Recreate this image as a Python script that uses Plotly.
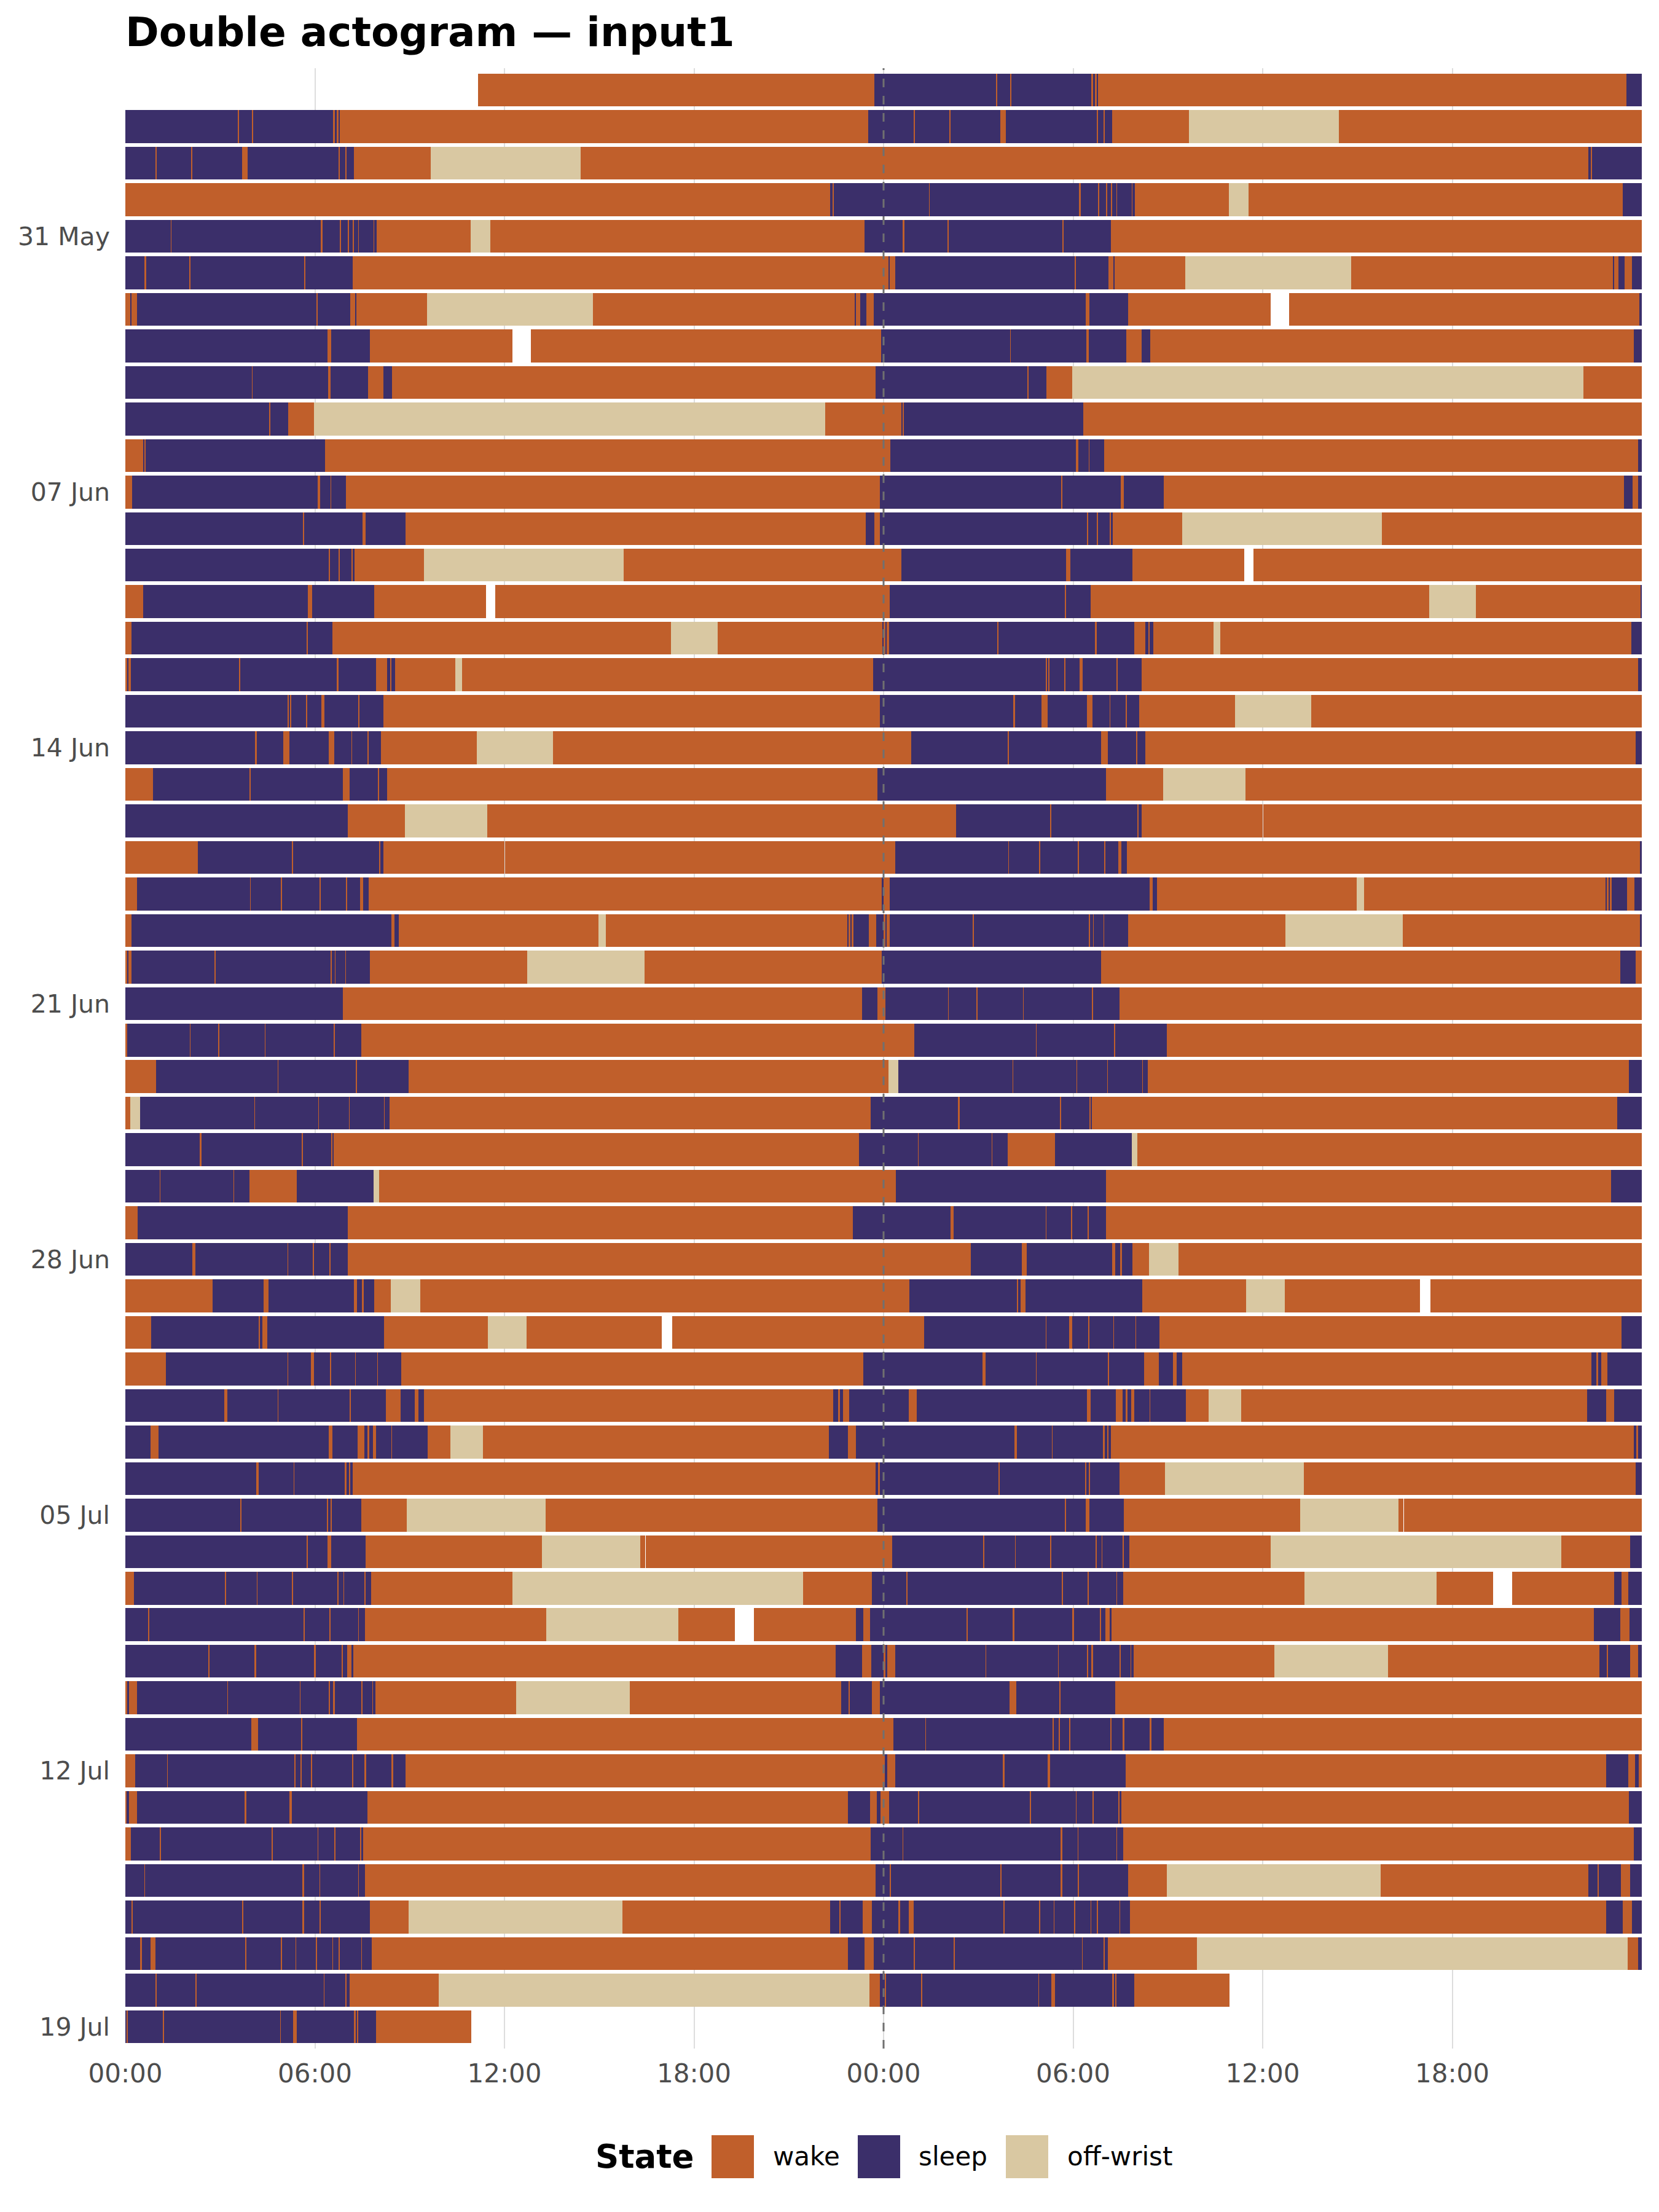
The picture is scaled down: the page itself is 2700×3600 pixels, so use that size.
import plotly.graph_objects as go

# ---------------- data ----------------
# Each day: list of (start hour, state) transitions; a state lasts until the next
# transition (or 24:00). W = wake, S = sleep, O = off-wrist, "-" = no data.
week1 = [  # 27 May - 02 Jun
    [(11.16, "W"), (23.70, "S")],
    [(0, "S"), (3.56, "W"), (3.60, "S"), (4.00, "W"), (4.04, "S"), (6.57, "W"), (6.64, "S"),
     (6.70, "W"), (6.75, "S"), (6.78, "W"), (23.52, "S")],
    [(0, "S"), (0.95, "W"), (0.99, "S"), (2.08, "W"), (2.12, "S"), (3.69, "W"), (3.87, "S"),
     (6.74, "W"), (6.78, "S"), (6.96, "W"), (7.00, "S"), (7.24, "W"), (9.66, "O"), (14.42, "W")],
    [(0, "W"), (22.31, "S"), (22.38, "W"), (22.42, "S")],
    [(0, "S"), (1.43, "W"), (1.46, "S"), (6.19, "W"), (6.24, "S"), (6.78, "W"), (6.82, "S"),
     (7.04, "W"), (7.07, "S"), (7.20, "W"), (7.23, "S"), (7.37, "W"), (7.40, "S"), (7.85, "W"),
     (7.88, "S"), (7.95, "W"), (10.93, "O"), (11.55, "W"), (23.40, "S")],
    [(0, "S"), (0.61, "W"), (0.66, "S"), (2.03, "W"), (2.07, "S"), (5.66, "W"), (5.70, "S"),
     (7.19, "W")],
    [(0, "W"), (0.16, "S"), (0.20, "W"), (0.36, "S"), (6.04, "W"), (6.09, "S"), (7.12, "W"),
     (7.28, "S"), (7.32, "W"), (9.55, "O"), (14.80, "W"), (23.10, "S"), (23.13, "W"),
     (23.26, "S"), (23.46, "W"), (23.69, "S")],
]
week2 = [  # 03 Jun - 09 Jun
    [(0, "S"), (6.39, "W"), (6.51, "S"), (7.75, "W"), (12.25, "-"), (12.84, "W"), (23.92, "S")],
    [(0, "S"), (4.00, "W"), (4.03, "S"), (6.42, "W"), (6.50, "S"), (7.69, "W"), (8.17, "S"),
     (8.45, "W"), (23.75, "S")],
    [(0, "S"), (4.56, "W"), (4.59, "S"), (5.15, "W"), (5.97, "O"), (22.16, "W")],
    [(0, "W"), (0.57, "S"), (0.60, "W"), (0.65, "S"), (6.33, "W")],
    [(0, "W"), (0.22, "S"), (6.08, "W"), (6.17, "S"), (6.49, "W"), (6.52, "S"), (6.98, "W"),
     (23.88, "S")],
    [(0, "S"), (5.63, "W"), (5.66, "S"), (7.50, "W"), (7.60, "S"), (8.87, "W"), (23.44, "S"),
     (23.70, "W"), (23.88, "S")],
    [(0, "S"), (6.44, "W"), (6.48, "S"), (6.75, "W"), (6.78, "S"), (7.15, "W"), (7.19, "S"),
     (7.26, "W"), (9.46, "O"), (15.77, "W")],
]
week3 = [  # 10 Jun - 16 Jun
    [(0, "W"), (0.56, "S"), (5.78, "W"), (5.92, "S"), (7.88, "W"), (11.41, "-"), (11.70, "W")],
    [(0, "W"), (0.20, "S"), (5.74, "W"), (5.78, "S"), (6.56, "W"), (17.27, "O"), (18.74, "W"),
     (23.96, "S")],
    [(0, "W"), (0.06, "S"), (0.10, "W"), (0.18, "S"), (3.60, "W"), (3.63, "S"), (6.70, "W"),
     (6.74, "S"), (7.94, "W"), (8.29, "S"), (8.38, "W"), (8.42, "S"), (8.54, "W"), (10.45, "O"),
     (10.65, "W"), (23.67, "S")],
    [(0, "S"), (5.14, "W"), (5.17, "S"), (5.22, "W"), (5.25, "S"), (5.72, "W"), (5.75, "S"),
     (6.20, "W"), (6.30, "S"), (7.38, "W"), (7.41, "S"), (8.16, "W"), (23.88, "S")],
    [(0, "S"), (4.11, "W"), (4.17, "S"), (4.99, "W"), (5.19, "S"), (6.43, "W"), (6.62, "S"),
     (7.15, "W"), (7.18, "S"), (7.67, "W"), (7.71, "S"), (8.09, "W"), (11.13, "O"), (13.53, "W")],
    [(0, "W"), (0.87, "S"), (3.92, "W"), (3.96, "S"), (6.88, "W"), (7.09, "S"), (8.00, "W"),
     (8.03, "S"), (8.29, "W"), (23.80, "S")],
    [(0, "S"), (7.04, "W"), (8.84, "O"), (11.46, "W")],
]
week4 = [  # 17 Jun - 23 Jun
    [(0, "W"), (2.29, "S"), (5.28, "W"), (5.31, "S"), (8.03, "W"), (8.08, "S"), (8.16, "W"),
     (12.00, "-"), (12.02, "W")],
    [(0, "W"), (0.37, "S"), (3.94, "W"), (3.97, "S"), (4.93, "W"), (4.96, "S"), (6.15, "W"),
     (6.18, "S"), (6.98, "W"), (7.02, "S"), (7.43, "W"), (7.52, "S"), (7.70, "W"), (23.95, "S")],
    [(0, "W"), (0.20, "S"), (8.43, "W"), (8.52, "S"), (8.65, "W"), (14.98, "O"), (15.20, "W"),
     (22.87, "S"), (22.90, "W"), (22.95, "S"), (22.98, "W"), (23.05, "S"), (23.53, "W"),
     (23.77, "S")],
    [(0, "W"), (0.05, "S"), (0.10, "W"), (0.20, "S"), (2.82, "W"), (2.85, "S"), (6.50, "W"),
     (6.53, "S"), (6.63, "W"), (6.66, "S"), (6.96, "W"), (6.99, "S"), (7.74, "W"), (12.71, "O"),
     (16.43, "W"), (23.95, "S")],
    [(0, "S"), (6.88, "W"), (23.32, "S"), (23.80, "W")],
    [(0, "W"), (0.05, "S"), (2.04, "W"), (2.07, "S"), (2.94, "W"), (2.97, "S"), (4.41, "W"),
     (4.44, "S"), (6.60, "W"), (6.63, "S"), (7.47, "W")],
    [(0, "W"), (0.98, "S"), (4.82, "W"), (4.85, "S"), (7.29, "W"), (7.33, "S"), (8.96, "W")],
]
week5 = [  # 24 Jun - 30 Jun
    [(0, "W"), (0.16, "O"), (0.47, "S"), (4.08, "W"), (4.11, "S"), (6.10, "W"), (6.13, "S"),
     (7.07, "W"), (7.10, "S"), (8.18, "W"), (8.21, "S"), (8.36, "W"), (23.60, "S")],
    [(0, "S"), (2.36, "W"), (2.41, "S"), (5.58, "W"), (5.62, "S"), (6.52, "W"), (6.56, "S"),
     (6.59, "W"), (23.22, "S")],
    [(0, "S"), (1.08, "W"), (1.11, "S"), (3.42, "W"), (3.44, "S"), (3.92, "W"), (5.43, "S"),
     (7.86, "O"), (8.03, "W")],
    [(0, "W"), (0.39, "S"), (7.04, "W"), (23.02, "S")],
    [(0, "S"), (2.12, "W"), (2.21, "S"), (5.13, "W"), (5.16, "S"), (5.93, "W"), (5.98, "S"),
     (6.45, "W"), (6.50, "S"), (7.04, "W")],
    [(0, "W"), (2.76, "S"), (4.37, "W"), (4.53, "S"), (7.24, "W"), (7.33, "S"), (7.49, "W"),
     (7.54, "S"), (7.88, "W"), (8.40, "O"), (9.33, "W")],
    [(0, "W"), (0.82, "S"), (4.23, "W"), (4.26, "S"), (4.33, "W"), (4.50, "S"), (8.19, "W"),
     (11.47, "O"), (12.70, "W"), (16.98, "-"), (17.30, "W")],
]
week6 = [  # 01 Jul - 07 Jul
    [(0, "W"), (1.29, "S"), (5.13, "W"), (5.16, "S"), (5.88, "W"), (5.97, "S"), (6.48, "W"),
     (6.51, "S"), (7.27, "W"), (7.30, "S"), (7.97, "W"), (8.00, "S"), (8.74, "W"), (23.36, "S")],
    [(0, "S"), (3.13, "W"), (3.22, "S"), (4.82, "W"), (4.85, "S"), (7.10, "W"), (7.13, "S"),
     (8.25, "W"), (8.71, "S"), (9.16, "W"), (9.27, "S"), (9.46, "W"), (22.40, "S"),
     (22.57, "W"), (22.62, "S"), (22.71, "W"), (22.91, "S")],
    [(0, "S"), (0.79, "W"), (1.05, "S"), (6.43, "W"), (6.56, "S"), (7.36, "W"), (7.57, "S"),
     (7.67, "W"), (7.72, "S"), (7.83, "W"), (7.94, "S"), (8.42, "W"), (8.45, "S"), (9.57, "W"),
     (10.29, "O"), (11.32, "W"), (22.26, "S"), (22.88, "W"), (23.13, "S")],
    [(0, "S"), (4.14, "W"), (4.23, "S"), (5.32, "W"), (5.35, "S"), (6.95, "W"), (7.00, "S"),
     (7.08, "W"), (7.12, "S"), (7.19, "W"), (23.75, "S"), (23.83, "W"), (23.88, "S")],
    [(0, "S"), (3.63, "W"), (3.67, "S"), (6.37, "W"), (6.42, "S"), (6.50, "W"), (6.53, "S"),
     (7.46, "W"), (8.91, "O"), (13.30, "W"), (23.80, "S")],
    [(0, "S"), (5.74, "W"), (5.77, "S"), (6.40, "W"), (6.51, "S"), (7.60, "W"), (13.19, "O"),
     (16.29, "W"), (16.45, "-"), (16.47, "W")],
    [(0, "W"), (0.28, "S"), (3.16, "W"), (3.19, "S"), (4.16, "W"), (4.19, "S"), (5.27, "W"),
     (5.30, "S"), (6.71, "W"), (6.74, "S"), (6.90, "W"), (6.93, "S"), (7.57, "W"), (7.60, "S"),
     (7.78, "W"), (12.25, "O"), (21.46, "W"), (23.63, "S")],
]
week7 = [  # 08 Jul - 14 Jul
    [(0, "S"), (0.72, "W"), (0.75, "S"), (5.64, "W"), (5.67, "S"), (6.45, "W"), (6.50, "S"),
     (7.37, "W"), (7.40, "S"), (7.58, "W"), (13.32, "O"), (17.50, "W"), (19.29, "-"),
     (19.89, "W"), (23.12, "S"), (23.36, "W"), (23.57, "S")],
    [(0, "S"), (2.63, "W"), (2.67, "S"), (4.09, "W"), (4.14, "S"), (5.97, "W"), (6.02, "S"),
     (6.84, "W"), (6.88, "S"), (7.02, "W"), (7.15, "S"), (7.21, "W"), (22.48, "S"),
     (23.32, "W"), (23.61, "S")],
    [(0, "W"), (0.05, "S"), (0.12, "W"), (0.36, "S"), (3.22, "W"), (3.25, "S"), (5.52, "W"),
     (5.55, "S"), (6.43, "W"), (6.47, "S"), (6.58, "W"), (6.64, "S"), (7.47, "W"), (7.50, "S"),
     (7.81, "W"), (7.84, "S"), (7.92, "W"), (12.36, "O"), (15.97, "W"), (22.65, "S"),
     (22.90, "W"), (22.93, "S"), (23.63, "W"), (23.88, "S")],
    [(0, "S"), (3.98, "W"), (4.20, "S"), (5.57, "W"), (5.60, "S"), (7.33, "W")],
    [(0, "W"), (0.31, "S"), (1.32, "W"), (1.35, "S"), (5.35, "W"), (5.39, "S"), (5.55, "W"),
     (5.59, "S"), (5.87, "W"), (5.91, "S"), (7.18, "W"), (7.22, "S"), (7.57, "W"), (7.62, "S"),
     (8.43, "W"), (8.48, "S"), (8.87, "W")],
    [(0, "W"), (0.04, "S"), (0.12, "W"), (0.36, "S"), (3.77, "W"), (3.83, "S"), (5.20, "W"),
     (5.28, "S"), (7.66, "W"), (22.87, "S"), (23.57, "W"), (23.78, "S"), (23.91, "W")],
    [(0, "W"), (0.17, "S"), (1.09, "W"), (1.13, "S"), (4.62, "W"), (4.66, "S"), (6.08, "W"),
     (6.11, "S"), (6.62, "W"), (6.65, "S"), (7.43, "W"), (7.46, "S"), (7.52, "W"), (23.60, "S")],
]
week8 = [  # 15 Jul - 19 Jul
    [(0, "S"), (0.60, "W"), (0.63, "S"), (5.60, "W"), (5.66, "S"), (6.14, "W"), (6.17, "S"),
     (7.37, "W"), (7.40, "S"), (7.58, "W"), (23.75, "S")],
    [(0, "S"), (0.20, "W"), (0.24, "S"), (3.70, "W"), (3.73, "S"), (5.60, "W"), (5.66, "S"),
     (6.15, "W"), (6.18, "S"), (7.74, "W"), (8.96, "O"), (15.74, "W"), (22.31, "S"),
     (22.60, "W"), (22.63, "S"), (23.33, "W"), (23.64, "S")],
    [(0, "S"), (0.47, "W"), (0.52, "S"), (0.80, "W"), (0.95, "S"), (3.80, "W"), (3.83, "S"),
     (4.93, "W"), (4.96, "S"), (5.38, "W"), (5.41, "S"), (6.03, "W"), (6.06, "S"), (6.55, "W"),
     (6.58, "S"), (6.75, "W"), (6.78, "S"), (7.46, "W"), (7.49, "S"), (7.80, "W"), (22.87, "S"),
     (23.40, "W"), (23.69, "S")],
    [(0, "S"), (0.96, "W"), (0.99, "S"), (2.22, "W"), (2.25, "S"), (6.28, "W"), (6.31, "S"),
     (6.97, "W"), (7.00, "S"), (7.10, "W"), (9.91, "O"), (23.55, "W"), (23.88, "S")],
    [(0, "S"), (0.04, "W"), (0.08, "S"), (1.19, "W"), (1.22, "S"), (4.90, "W"), (4.93, "S"),
     (5.30, "W"), (5.43, "S"), (7.24, "W"), (7.30, "S"), (7.34, "W"), (7.38, "S"), (7.94, "W"),
     (10.95, "-")],
]

state_codes = ["W", "S", "O"]
state_names = ["wake", "sleep", "off-wrist"]
state_colors = ["#C05F2B", "#3B2F6A", "#D9C8A2"]

ytick_rows = [4, 11, 18, 25, 32, 39, 46, 53]
ytick_labels = ["31 May", "07 Jun", "14 Jun", "21 Jun", "28 Jun", "05 Jul", "12 Jul", "19 Jul"]
xtick_vals = [0, 6, 12, 18, 24, 30, 36, 42]
xtick_labels = ["00:00", "06:00", "12:00", "18:00", "00:00", "06:00", "12:00", "18:00"]

days = week1 + week2 + week3 + week4 + week5 + week6 + week7 + week8
n_rows = len(days)

# ---------------- build bars ----------------
bars = {c: {"y": [], "base": [], "x": []} for c in state_codes}
for d, trans in enumerate(days):
    for i, (t, s) in enumerate(trans):
        end = trans[i + 1][0] if i + 1 < len(trans) else 24.0
        if s == "-" or end <= t:
            continue
        # left half: day d on its own row
        bars[s]["y"].append(d)
        bars[s]["base"].append(t)
        bars[s]["x"].append(end - t)
        # right half: day d on the previous row, shifted by 24h
        if d >= 1:
            bars[s]["y"].append(d - 1)
            bars[s]["base"].append(t + 24)
            bars[s]["x"].append(end - t)

fig = go.Figure()
for code, name, col in zip(state_codes, state_names, state_colors):
    b = bars[code]
    fig.add_trace(go.Bar(
        y=b["y"], x=b["x"], base=b["base"], orientation="h", name=name,
        width=0.9, marker=dict(color=col, line=dict(width=0)), showlegend=False,
    ))

W, H = 2700, 3600
L, R, T, B = 204, 28, 111, 266
FONT = "DejaVu Sans"


def fx(px):
    return (px - L) / (W - L - R)


def fy(py):
    return (H - B - py) / (H - T - B)


fig.update_layout(
    width=W, height=H,
    margin=dict(l=L, r=R, t=T, b=B, pad=0),
    barmode="overlay", bargap=0,
    paper_bgcolor="white", plot_bgcolor="white",
    font=dict(family=FONT, color="#4D4D4D"),
    title=dict(text="Double actogram — input1", x=fx(204), xref="paper", xanchor="left",
               y=1 - 52 / H, yref="container", yanchor="middle",
               font=dict(family=FONT, size=66, color="black", weight="bold")),
    xaxis=dict(range=[0, 48], tickvals=xtick_vals, ticktext=xtick_labels,
               showgrid=True, gridcolor="#DDDDDD", gridwidth=2, zeroline=False,
               showline=False, ticks="", tickfont=dict(size=42, color="#4D4D4D"),
               ticklabelstandoff=12, fixedrange=True),
    yaxis=dict(range=[n_rows - 1 + 0.6, -0.6], tickvals=ytick_rows, ticktext=ytick_labels,
               showgrid=False, zeroline=False, showline=False, ticks="",
               tickfont=dict(size=41, color="#4D4D4D"), ticklabelstandoff=24),
    shapes=[dict(type="line", xref="x", yref="paper", x0=24, x1=24, y0=0, y1=1,
                 line=dict(color="#707070", width=3, dash="14px,14px"), layer="above")],
)

# custom legend (large square keys like the reference)
sw_left = [1158, 1396, 1637]
lab_left = [1256, 1493, 1735]
for xl, lx, name, col in zip(sw_left, lab_left, state_names, state_colors):
    fig.add_shape(type="rect", xref="paper", yref="paper", x0=fx(xl), x1=fx(xl + 69),
                  y0=fy(3545), y1=fy(3475), fillcolor=col, line=dict(width=0))
    fig.add_annotation(text=name, xref="paper", yref="paper", x=fx(lx), y=fy(3510),
                       xanchor="left", yanchor="middle", showarrow=False,
                       font=dict(family=FONT, size=42, color="black"))
fig.add_annotation(text="<b>State</b>", xref="paper", yref="paper", x=fx(967), y=fy(3510),
                   xanchor="left", yanchor="middle", showarrow=False,
                   font=dict(family=FONT, size=53, color="black"))

fig.write_html("out.html", config={"displayModeBar": False},
               post_script="document.body.style.margin='0px';")
